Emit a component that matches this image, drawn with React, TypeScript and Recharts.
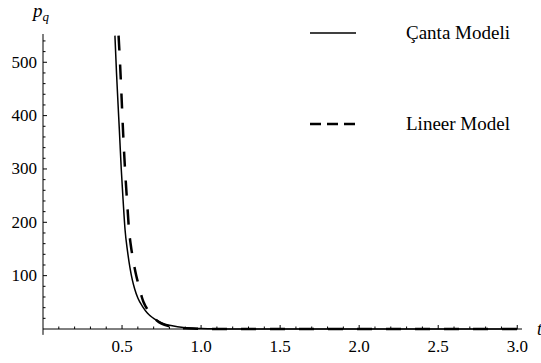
import {
  LineChart,
  Line,
  XAxis,
  YAxis,
  Legend,
  ReferenceLine,
} from "recharts";

// Çanta Modeli (solid)
const cantaT = [
  0.455, 0.465, 0.475, 0.483, 0.495, 0.507, 0.519, 0.535, 0.55, 0.565, 0.58,
  0.6, 0.63, 0.66, 0.69, 0.72, 0.76, 0.8, 0.85, 0.9, 0.95, 1.0, 1.1, 1.3, 3.0,
];
const cantaP = [
  550, 480, 420, 373, 300, 240, 186, 145, 115, 92, 75, 58, 42, 30, 22, 16,
  10.5, 7, 4.4, 2.5, 1.4, 0.8, 0.3, 0.05, 0,
];

// Lineer Model (dashed)
const lineerT = [
  0.478, 0.487, 0.497, 0.506, 0.515, 0.525, 0.535, 0.544, 0.555, 0.567, 0.578,
  0.59, 0.6, 0.614, 0.625, 0.635, 0.65, 0.665, 0.682, 0.7, 0.72, 0.75, 0.8,
  0.85, 0.9, 1.0, 1.2, 3.0,
];
const lineerP = [
  550, 500, 435, 373, 320, 270, 225, 186, 158, 135, 117, 100, 88, 72, 60, 51,
  42, 35, 28, 22, 16, 10, 5, 2.5, 1.2, 0.3, 0, 0,
];

const seriesNames = ["Çanta Modeli", "Lineer Model"];

const xTicks = [
  0.1, 0.2, 0.3, 0.4, 0.5, 0.6, 0.7, 0.8, 0.9, 1.0, 1.1, 1.2, 1.3, 1.4, 1.5,
  1.6, 1.7, 1.8, 1.9, 2.0, 2.1, 2.2, 2.3, 2.4, 2.5, 2.6, 2.7, 2.8, 2.9, 3.0,
];
const yTicks = [
  20, 40, 60, 80, 100, 120, 140, 160, 180, 200, 220, 240, 260, 280, 300, 320,
  340, 360, 380, 400, 420, 440, 460, 480, 500, 520, 540,
];

const canta = cantaT.map((t, i) => ({ t, p: cantaP[i] }));
const lineer = lineerT.map((t, i) => ({ t, p: lineerP[i] }));

const serif = { fontFamily: "'Liberation Serif', 'Times New Roman', serif" };

const XTick = (props: any) => {
  const { x, y, payload } = props;
  const v = payload.value;
  const major = Math.abs(v * 2 - Math.round(v * 2)) < 1e-6;
  return (
    <g>
      <line x1={x} x2={x} y1={y} y2={y - (major ? 4 : 2.5)} stroke="#000" />
      {major && (
        <text x={x} y={y + 23} textAnchor="middle" fontSize={17} style={serif} fill="#000">
          {v.toFixed(1)}
        </text>
      )}
    </g>
  );
};

const YTick = (props: any) => {
  const { x, y, payload } = props;
  const v = payload.value;
  const major = v % 100 === 0;
  return (
    <g>
      <line x1={x} x2={x + (major ? 4 : 2.5)} y1={y} y2={y} stroke="#000" />
      {major && (
        <text x={x - 6} y={y + 5.5} textAnchor="end" fontSize={17} style={serif} fill="#000">
          {v}
        </text>
      )}
    </g>
  );
};

const renderLegend = (props: any) => {
  const items = [...(props.payload || [])].sort(
    (a: any, b: any) => seriesNames.indexOf(a.value) - seriesNames.indexOf(b.value)
  );
  return (
    <svg width={230} height={130}>
      {items.map((entry: any, i: number) => {
        const yy = 23 + i * 91;
        const dashed = !!entry.payload?.strokeDasharray;
        return (
          <g key={entry.value}>
            <line
              x1={5}
              x2={51}
              y1={yy}
              y2={yy}
              stroke="#000"
              strokeWidth={dashed ? 2.5 : 1.5}
              strokeDasharray={dashed ? "11 6" : undefined}
            />
            <text x={101} y={yy + 6} fontSize={19} style={serif} fill="#000">
              {entry.value}
            </text>
          </g>
        );
      })}
    </svg>
  );
};

export default function App() {
  return (
    <div style={{ position: "absolute", left: 0, top: 0, background: "#fff" }}>
      <LineChart
        width={541}
        height={363}
        margin={{ top: 34, right: 19, left: 0, bottom: 0 }}
      >
        <XAxis
          dataKey="t"
          type="number"
          domain={[0, 3.03]}
          ticks={xTicks}
          interval={0}
          tickSize={0}
          tickMargin={0}
          tickLine={false}
          axisLine={{ stroke: "#000" }}
          height={34}
          tick={<XTick />}
          label={{
            content: ({ viewBox }: any) => (
              <text
                x={viewBox.x + viewBox.width + 15}
                y={viewBox.y + 6}
                fontSize={18}
                fontStyle="italic"
                style={serif}
                fill="#000"
              >
                t
              </text>
            ),
          }}
        />
        <YAxis
          type="number"
          domain={[0, 553]}
          ticks={yTicks}
          interval={0}
          width={43}
          tickSize={0}
          tickMargin={0}
          tickLine={false}
          axisLine={{ stroke: "#000" }}
          tick={<YTick />}
          label={{
            content: ({ viewBox }: any) => (
              <text
                x={viewBox.x + viewBox.width - 10}
                y={viewBox.y - 17}
                fontSize={19}
                fontStyle="italic"
                style={serif}
                fill="#000"
              >
                p
                <tspan fontSize={13} dy={4}>
                  q
                </tspan>
              </text>
            ),
          }}
        />
        <ReferenceLine
          segment={[
            { x: 0, y: 0 },
            { x: 0, y: -11 },
          ]}
          ifOverflow="visible"
          stroke="#000"
        />
        <Legend
          layout="vertical"
          align="center"
          verticalAlign="middle"
          content={renderLegend}
          wrapperStyle={{ left: 305, top: 10, width: 230, height: 130 }}
        />
        <Line
          data={canta}
          dataKey="p"
          name={seriesNames[0]}
          type="monotone"
          stroke="#000"
          strokeWidth={1.5}
          dot={false}
          isAnimationActive={false}
        />
        <Line
          data={lineer}
          dataKey="p"
          name={seriesNames[1]}
          type="monotone"
          stroke="#000"
          strokeWidth={2.5}
          strokeDasharray="15 14"
          dot={false}
          isAnimationActive={false}
        />
      </LineChart>
    </div>
  );
}
